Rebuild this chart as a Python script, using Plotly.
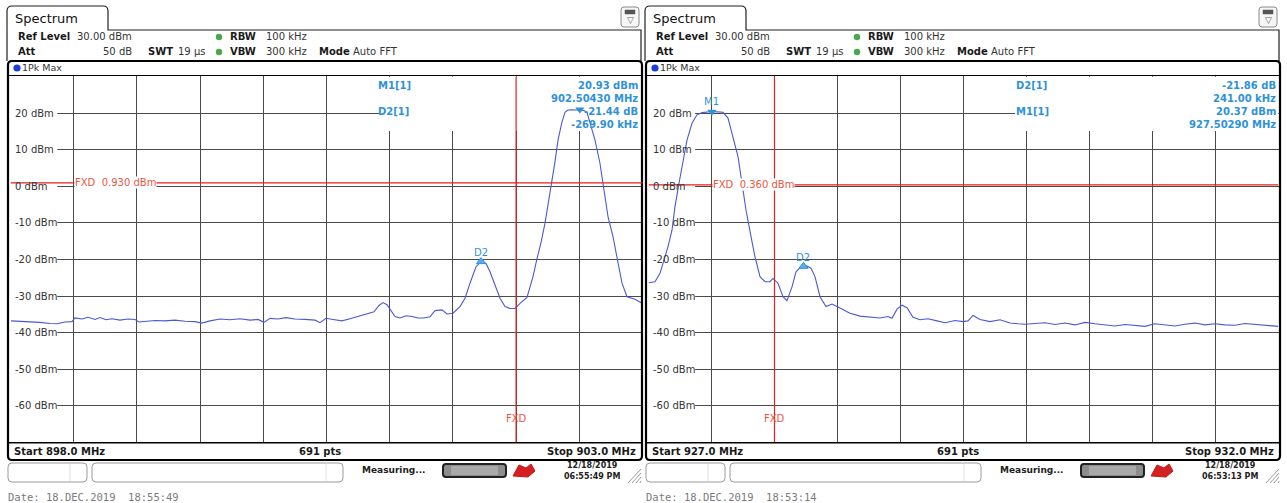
import plotly.graph_objects as go

W, H = 1287, 503

# ---------------- data ----------------
left_freq = [898.004, 898.075, 898.154, 898.233, 898.3125, 898.368, 898.431, 898.4866, 898.5103, 898.5657,
             898.6131, 898.6685, 898.7081, 898.7555, 898.803, 898.8663, 898.9296, 898.985, 899.0166, 899.0641,
             899.1432, 899.2223, 899.3014, 899.3805, 899.4597, 899.515, 899.5783, 899.6574, 899.7366, 899.8157,
             899.8948, 899.9581, 900.0055, 900.053, 900.1163, 900.1796, 900.2508, 900.3299, 900.409, 900.4486,
             900.496, 900.5514, 900.6226, 900.6859, 900.7492, 900.8204, 900.8758, 900.9153, 900.947, 900.9786,
             901.0103, 901.0419, 901.0815, 901.1289, 901.1764, 901.2239, 901.2714, 901.3188, 901.3584, 901.4138,
             901.4533, 901.5008, 901.5562, 901.5957, 901.6353, 901.6828, 901.7223, 901.7619, 901.7935, 901.8331,
             901.8727, 901.9122, 901.9518, 901.9913, 902.0309, 902.0862, 902.1337, 902.1653, 902.197, 902.2286,
             902.2603, 902.284, 902.3078, 902.3315, 902.3631, 902.3869, 902.4106, 902.4423, 902.4739, 902.5056,
             902.5372, 902.5609, 902.5926, 902.6242, 902.6638, 902.6954, 902.7271, 902.7666, 902.8062, 902.8378,
             902.8774, 902.9407, 902.996]
left_level = [-36.8, -36.9, -37.0, -37.2, -37.5, -37.6, -37.1, -37.0, -36.0, -36.3,
              -35.8, -36.4, -35.9, -36.5, -36.2, -36.6, -36.3, -36.4, -37.1, -36.9,
              -36.7, -36.8, -36.6, -36.9, -37.0, -37.4, -36.8, -36.3, -36.5, -36.2,
              -36.6, -36.4, -37.2, -36.1, -36.3, -35.9, -36.3, -36.4, -36.6, -37.3,
              -36.1, -36.4, -36.8, -36.2, -35.6, -35.0, -34.3, -32.6, -31.8, -32.4,
              -34.0, -35.6, -36.0, -35.4, -35.6, -36.0, -36.0, -35.7, -34.0, -33.8,
              -34.9, -34.7, -32.9, -30.6, -26.5, -22.0, -20.6, -21.1, -23.4, -27.0,
              -30.6, -32.9, -33.4, -33.4, -32.0, -30.4, -24.7, -19.8, -15.4, -10.1,
              -3.8, 1.7, 6.7, 12.6, 17.6, 20.2, 20.8, 20.9, 20.8, 20.9,
              20.7, 20.2, 16.3, 12.6, 6.2, -1.0, -8.3, -13.8, -21.1, -26.5,
              -30.2, -30.9, -32.0]

right_freq = [927.0, 927.0516, 927.0913, 927.123, 927.1548, 927.1865, 927.2103, 927.2421, 927.2738, 927.3056,
              927.3452, 927.3849, 927.4246, 927.4643, 927.504, 927.5437, 927.5913, 927.631, 927.6706, 927.7103,
              927.7421, 927.7738, 927.8135, 927.8452, 927.8849, 927.9246, 927.9643, 927.9881, 928.0278, 928.0675,
              928.0992, 928.1389, 928.1706, 928.2103, 928.25, 928.2897, 928.3214, 928.3611, 928.4087, 928.4563,
              928.504, 928.5437, 928.5992, 928.6786, 928.7579, 928.8373, 928.9008, 928.9325, 928.9722, 929.0119,
              929.0516, 929.0992, 929.1548, 929.2183, 929.2897, 929.3532, 929.4325, 929.496, 929.5357, 929.5754,
              929.631, 929.7103, 929.7897, 929.869, 929.9325, 929.9881, 930.0675, 930.1468, 930.2262, 930.3056,
              930.3849, 930.4643, 930.5437, 930.623, 930.7024, 930.7817, 930.8611, 930.9405, 931.0198, 931.0992,
              931.1786, 931.2579, 931.3373, 931.4167, 931.496, 931.5754, 931.6548, 931.7341, 931.8135, 931.8929,
              931.996]
right_level = [-26.4, -26.1, -23.8, -20.2, -16.5, -12.0, -5.6, 0.8, 7.2, 12.6,
               17.2, 19.5, 20.1, 20.3, 20.4, 20.3, 20.2, 18.6, 13.6, 8.1,
               0.8, -6.5, -13.8, -19.3, -24.7, -26.1, -26.1, -25.2, -26.5, -30.2,
               -31.3, -27.5, -23.4, -22.0, -21.7, -22.4, -24.7, -30.2, -32.9, -32.2,
               -33.0, -33.8, -34.7, -35.5, -35.7, -36.0, -35.6, -36.1, -33.6, -32.5,
               -33.2, -35.8, -36.5, -36.2, -36.8, -37.3, -36.7, -37.0, -36.8, -35.3,
               -36.4, -37.0, -36.5, -37.4, -37.6, -37.7, -37.5, -37.3, -37.8, -37.4,
               -37.9, -37.2, -37.6, -37.9, -38.2, -37.8, -38.1, -38.3, -37.6, -37.9,
               -38.2, -37.7, -37.4, -37.9, -37.6, -37.9, -38.0, -37.5, -37.7, -38.0,
               -38.3]

y_ticks = [20, 10, 0, -10, -20, -30, -40, -50, -60]
y_tick_labels = ["20 dBm", "10 dBm", "0 dBm", "-10 dBm", "-20 dBm", "-30 dBm", "-40 dBm", "-50 dBm", "-60 dBm"]
left_span = [898.0, 903.0]
right_span = [927.0, 932.0]
level_range = [-70, 30]
fxd_level = [0.93, 0.36]
fxd_label = ["FXD  0.930 dBm", "FXD  0.360 dBm"]
fxd_freq = [902.0, 928.0]
m1_freq = [902.5043, 927.5029]
m1_level = [20.93, 20.37]
d2_freq = [901.7223, 928.23]
d2_level = [-20.6, -21.9]
readouts_left = [("M1[1]", "20.93 dBm", "902.50430 MHz"), ("D2[1]", "-21.44 dB", "-269.90 kHz")]
readouts_right = [("D2[1]", "-21.86 dB", "241.00 kHz"), ("M1[1]", "20.37 dBm", "927.50290 MHz")]
start_labels = ["Start 898.0 MHz", "Start 927.0 MHz"]
stop_labels = ["Stop 903.0 MHz", "Stop 932.0 MHz"]
status_times = ["06:55:49 PM", "06:53:13 PM"]
date_lines = ["Date: 18.DEC.2019  18:55:49", "Date: 18.DEC.2019  18:53:14"]

# ---------------- styling ----------------
FONT = "DejaVu Sans"
MONO = "DejaVu Sans Mono"
TRACE = "#4c58d6"
MBLUE = "#2f92d8"
RED = "#e41e1e"
REDTXT = "#e9573f"
GRID = "#4a4a4a"


def X(p):
    return p / W


def Y(p):
    return 1 - p / H


shapes = []
annotations = []


def pline(x0, y0, x1, y1, color="#000", width=1):
    shapes.append(dict(type="line", xref="paper", yref="paper", x0=X(x0), y0=Y(y0), x1=X(x1), y1=Y(y1),
                       line=dict(color=color, width=width), layer="above"))


def prect(x0, y0, x1, y1, color="#000", width=1, fill="rgba(0,0,0,0)"):
    shapes.append(dict(type="rect", xref="paper", yref="paper", x0=X(x0), y0=Y(y0), x1=X(x1), y1=Y(y1),
                       line=dict(color=color, width=width), fillcolor=fill, layer="above"))


def rpath(x0, y0, x1, y1, r):
    return (f"M {X(x0 + r)},{Y(y0)} L {X(x1 - r)},{Y(y0)} Q {X(x1)},{Y(y0)} {X(x1)},{Y(y0 + r)} "
            f"L {X(x1)},{Y(y1 - r)} Q {X(x1)},{Y(y1)} {X(x1 - r)},{Y(y1)} L {X(x0 + r)},{Y(y1)} "
            f"Q {X(x0)},{Y(y1)} {X(x0)},{Y(y1 - r)} L {X(x0)},{Y(y0 + r)} Q {X(x0)},{Y(y0)} {X(x0 + r)},{Y(y0)} Z")


def prbox(x0, y0, x1, y1, r, color="#000", width=1, fill="rgba(0,0,0,0)"):
    shapes.append(dict(type="path", xref="paper", yref="paper", path=rpath(x0, y0, x1, y1, r),
                       line=dict(color=color, width=width), fillcolor=fill, layer="above"))


def pcircle(cx, cy, r, fill):
    shapes.append(dict(type="circle", xref="paper", yref="paper", x0=X(cx - r), y0=Y(cy + r), x1=X(cx + r),
                       y1=Y(cy - r), line=dict(width=0), fillcolor=fill, layer="above"))


def text(x, y, s, size=10, color="#1a1a1a", anchor="left", bold=False, family=FONT, bg=None):
    a = dict(xref="paper", yref="paper", x=X(x), y=Y(y), text=("<b>%s</b>" % s if bold else s),
             showarrow=False, xanchor=anchor, yanchor="middle", borderpad=0,
             font=dict(size=size, color=color, family=family))
    if bg:
        a["bgcolor"] = bg
    annotations.append(a)


def panel(o, idx):
    # tab + frame
    tab = (f"M {X(7 + o)},{Y(61)} L {X(7 + o)},{Y(11)} Q {X(7 + o)},{Y(6)} {X(12 + o)},{Y(6)} "
           f"L {X(103 + o)},{Y(6)} Q {X(108 + o)},{Y(6)} {X(108 + o)},{Y(11)} L {X(108 + o)},{Y(30)} "
           f"L {X(641 + o)},{Y(30)} L {X(641 + o)},{Y(61)}")
    shapes.append(dict(type="path", xref="paper", yref="paper", path=tab, line=dict(color="#222", width=1.2),
                       layer="above"))
    text(14 + o, 18, "Spectrum", size=13, color="#111")
    # icon
    prbox(621 + o, 7, 639 + o, 27, 3, color="#8a8a8a", width=1, fill="#f6f6f6")
    prect(625 + o, 10, 635 + o, 14, color="#555", width=0.5, fill="#555")
    text(630 + o, 20, "▽", size=9, color="#666", anchor="center")
    # settings
    text(17 + o, 37, "Ref Level", size=10, bold=True)
    text(133 + o, 37, "30.00 dBm", size=10, anchor="right", color="#333")
    text(17 + o, 52, "Att", size=10, bold=True)
    text(133 + o, 52, "50 dB", size=10, anchor="right", color="#333")
    text(147 + o, 52, "SWT", size=10, bold=True)
    text(177 + o, 52, "19 µs", size=10, color="#333")
    pcircle(219 + o, 37, 3.2, "#49a84a")
    pcircle(219 + o, 52, 3.2, "#49a84a")
    text(229 + o, 37, "RBW", size=10, bold=True)
    text(265 + o, 37, "100 kHz", size=10, color="#333")
    text(229 + o, 52, "VBW", size=10, bold=True)
    text(265 + o, 52, "300 kHz", size=10, color="#333")
    text(318 + o, 52, "Mode", size=10, bold=True)
    text(352 + o, 52, "Auto FFT", size=10, color="#333")
    # trace window
    prbox(8 + o, 61, 642 + o, 460, 4, color="#000", width=2.2)
    pline(9 + o, 75.5, 641 + o, 75.5, color="#000", width=1)
    pline(9 + o, 442.7, 641 + o, 442.7, color="#000", width=1.5)
    pcircle(17 + o, 68, 3.6, "#1d3fd8")
    text(21 + o, 68, "1Pk Max", size=9.5, color="#333")
    text(13 + o, 451, start_labels[idx], size=10, bold=True)
    text(320 + o, 451, "691 pts", size=10, bold=True, anchor="center")
    text(637 + o, 451, stop_labels[idx], size=10, bold=True, anchor="right")
    # status bar
    prbox(8 + o, 463, 87 + o, 482, 4, color="#9a9a9a", width=1, fill="#ffffff")
    pline(70 + o, 464, 70 + o, 481, color="#dddddd", width=1)
    prbox(92 + o, 463, 343 + o, 482, 4, color="#9a9a9a", width=1, fill="#ffffff")
    pline(326 + o, 464, 326 + o, 481, color="#e4e4e4", width=1)
    text(361 + o, 470, "Measuring...", size=9, bold=True, color="#222")
    prbox(443 + o, 464, 506 + o, 477, 3, color="#222", width=2, fill="#8d8d8d")
    prect(451 + o, 466, 498 + o, 475, color="rgba(0,0,0,0)", width=0, fill="#a9a9a9")
    shapes.append(dict(type="path", xref="paper", yref="paper",
                       path=(f"M {X(513 + o)},{Y(476)} L {X(519 + o)},{Y(465)} L {X(526 + o)},{Y(468)} "
                             f"L {X(531 + o)},{Y(464)} L {X(535 + o)},{Y(471)} L {X(528 + o)},{Y(477)} Z"),
                       line=dict(color="#c81818", width=1), fillcolor="#d42020", layer="above"))
    text(592 + o, 465, "12/18/2019", size=8, bold=True, anchor="center", color="#222")
    text(592 + o, 476, status_times[idx], size=8, bold=True, anchor="center", color="#222")
    for k in range(4):
        pline(628 + 4 * k + o, 483, 641 + o, 469 + 4 * k, color="#9a9a9a", width=1)
    text(7 + o, 497, date_lines[idx], size=10.5, family=MONO, color="#7a7a7a")


panel(0, 0)
panel(638, 1)

fig = go.Figure()

spans = [left_span, right_span]
xs = ["x", "x2"]
ys = ["y", "y2"]
label_x = [14, 652]
fxd_text_x = [74, 712]
read_x = [377, 1015]
val_x = [639, 1277]
readouts = [readouts_left, readouts_right]
freqs = [left_freq, right_freq]
levels = [left_level, right_level]
dom = [[X(10.5), X(642.5)], [X(648.5), X(1278.5)]]
label_col = [[898.0, 898.37], [927.0, 927.37]]
read_col = [900.92, 929.909]

for i in range(2):
    xr, yr = xs[i], ys[i]
    # white cut-outs over the grid (between grid and trace)
    shapes.append(dict(type="rect", xref=xr, yref=yr, x0=label_col[i][0], x1=label_col[i][1], y0=-64, y1=24,
                       line=dict(width=0), fillcolor="white", layer="between"))
    shapes.append(dict(type="rect", xref=xr, yref=yr, x0=read_col[i], x1=spans[i][1], y0=15.1, y1=30,
                       line=dict(width=0), fillcolor="white", layer="between"))
    # trace
    fig.add_trace(go.Scatter(x=freqs[i], y=levels[i], mode="lines", line=dict(color=TRACE, width=1.1),
                             xaxis=xr, yaxis=yr, hoverinfo="skip"))
    # markers
    fig.add_trace(go.Scatter(x=[m1_freq[i]], y=[m1_level[i]], mode="markers",
                             marker=dict(symbol="triangle-down", size=8, color=MBLUE), xaxis=xr, yaxis=yr))
    fig.add_trace(go.Scatter(x=[d2_freq[i]], y=[d2_level[i]], mode="markers",
                             marker=dict(symbol="triangle-up", size=8, color="#55aef0",
                                         line=dict(color=MBLUE, width=1)),
                             xaxis=xr, yaxis=yr))
    if i == 1:
        annotations.append(dict(xref=xr, yref=yr, x=m1_freq[i], y=m1_level[i], yshift=10, text="M1",
                                showarrow=False, xanchor="center", yanchor="middle",
                                font=dict(size=10, color=MBLUE, family=FONT)))
    annotations.append(dict(xref=xr, yref=yr, x=d2_freq[i], y=d2_level[i], yshift=9, text="D2",
                            showarrow=False, xanchor="center", yanchor="middle",
                            font=dict(size=10, color=MBLUE, family=FONT)))
    # FXD lines
    shapes.append(dict(type="line", xref=xr, yref=yr, x0=spans[i][0], x1=spans[i][1], y0=fxd_level[i],
                       y1=fxd_level[i], line=dict(color=RED, width=1.2), layer="above"))
    shapes.append(dict(type="line", xref=xr, yref=yr, x0=fxd_freq[i], x1=fxd_freq[i], y0=level_range[0],
                       y1=level_range[1], line=dict(color=RED, width=1.2), layer="above"))
    annotations.append(dict(xref=xr, yref=yr, x=fxd_freq[i], y=-63.5, text="FXD", showarrow=False,
                            xanchor="center", yanchor="middle", font=dict(size=10, color=REDTXT, family=FONT)))
    annotations.append(dict(xref="paper", yref=yr, x=X(fxd_text_x[i]), y=fxd_level[i], text=fxd_label[i],
                            showarrow=False, xanchor="left", yanchor="middle", bgcolor="white", borderpad=0,
                            font=dict(size=10, color=REDTXT, family=FONT)))
    # y labels
    for v, lab in zip(y_ticks, y_tick_labels):
        annotations.append(dict(xref="paper", yref=yr, x=X(label_x[i]), y=v, text=lab, showarrow=False,
                                xanchor="left", yanchor="middle", borderpad=0,
                                font=dict(size=10, color="#333", family=FONT)))
    # marker readouts
    rows = [85, 98, 112, 125]
    for j, (name, val, sub) in enumerate(readouts[i]):
        text(read_x[i], rows[2 * j], name, size=10, bold=True, color=MBLUE)
        text(val_x[i], rows[2 * j], val, size=10, bold=True, color=MBLUE, anchor="right")
        text(val_x[i], rows[2 * j + 1], sub, size=10, bold=True, color=MBLUE, anchor="right")

axis_common = dict(showticklabels=False, ticks="", zeroline=False, showline=False, showgrid=True,
                   gridcolor=GRID, gridwidth=1, fixedrange=True)

fig.update_layout(
    width=W, height=H,
    margin=dict(l=0, r=0, t=0, b=0),
    paper_bgcolor="white", plot_bgcolor="white",
    showlegend=False,
    xaxis=dict(domain=dom[0], range=left_span, dtick=0.5, tick0=898.0, anchor="y", **axis_common),
    yaxis=dict(domain=[Y(442.4), Y(76.4)], range=level_range, dtick=10, tick0=0, anchor="x", **axis_common),
    xaxis2=dict(domain=dom[1], range=right_span, dtick=0.5, tick0=927.0, anchor="y2", **axis_common),
    yaxis2=dict(domain=[Y(442.4), Y(76.4)], range=level_range, dtick=10, tick0=0, anchor="x2", **axis_common),
    shapes=shapes,
    annotations=annotations,
)

fig.write_html("out.html")
